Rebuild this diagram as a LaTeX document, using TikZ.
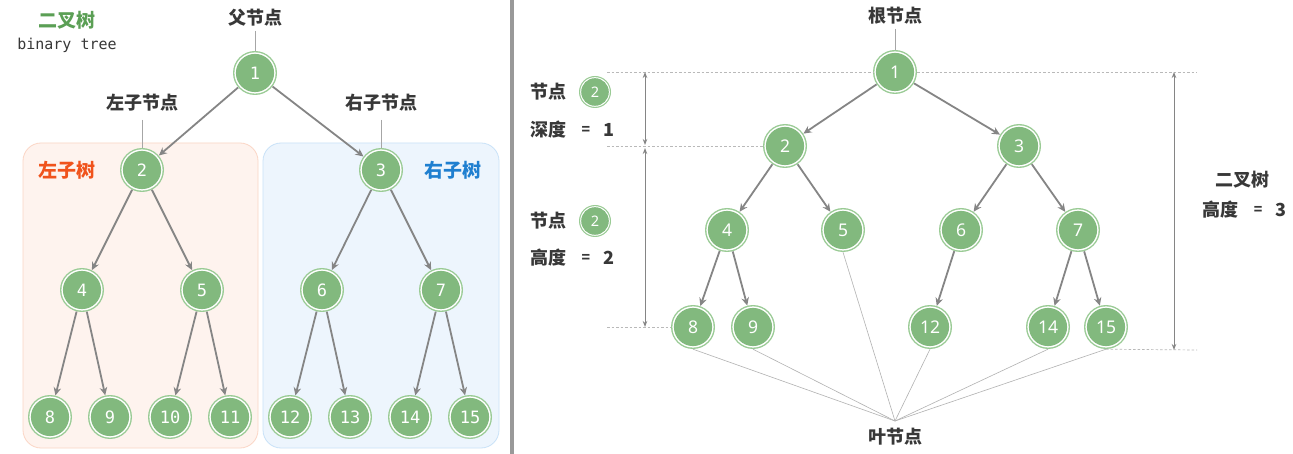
\documentclass[tikz,border=0pt]{standalone}
\usepackage{fontspec}
\usetikzlibrary{arrows.meta}
\newfontfamily\cjk{Noto Sans CJK SC}
\newfontfamily\monof{DejaVu Sans Mono}
\newfontfamily\numf{Noto Sans}
\definecolor{nodefill}{HTML}{82B97E}
\definecolor{ring}{HTML}{9ACB95}
\definecolor{edgec}{HTML}{858585}
\definecolor{txt}{HTML}{383838}
\definecolor{tgreen}{HTML}{5B9F55}
\definecolor{torange}{HTML}{F0531C}
\definecolor{tblue}{HTML}{1F7FD0}
\definecolor{lfill}{HTML}{FEF3EE}
\definecolor{lborder}{HTML}{FBD6C6}
\definecolor{rfill}{HTML}{EDF5FD}
\definecolor{rborder}{HTML}{C9E2F8}
\tikzset{
  tn/.style={circle, fill=ring, draw=none, minimum size=44pt, inner sep=0pt,
    text=white, font=\monof\fontsize{17}{17}\selectfont,
    path picture={\fill[white] (path picture bounding box.center) circle (20.6pt);
                  \fill[nodefill] (path picture bounding box.center) circle (19.1pt);}},
  rn/.style={tn, font=\numf\fontsize{17.5}{17.5}\selectfont},
  sn/.style={circle, fill=ring, draw=none, minimum size=32pt, inner sep=0pt,
    text=white, font=\numf\fontsize{14.5}{14.5}\selectfont,
    path picture={\fill[white] (path picture bounding box.center) circle (14.8pt);
                  \fill[nodefill] (path picture bounding box.center) circle (13.8pt);}},
  lab/.style={text=txt, font=\cjk\bfseries\fontsize{18}{18}\selectfont, inner sep=4pt},
  edgeline/.style={draw=edgec, line width=1.8pt, -{Stealth[length=8pt,width=7.5pt]}},
  pointer/.style={draw=gray!70, line width=0.7pt},
  leafline/.style={draw=gray!60, line width=0.6pt},
  dashline/.style={draw=gray!55, line width=0.7pt, dash pattern=on 2.5pt off 2pt},
  dimline/.style={draw=edgec, line width=1pt, {Stealth[length=6pt,width=4.5pt]}-{Stealth[length=6pt,width=4.5pt]}},
}
\begin{document}
\begin{tikzpicture}[x=1pt,y=-1pt]
\useasboundingbox (0,0) rectangle (1293,454);
\fill[white] (0,0) rectangle (1293,454);
% separator
\fill[gray!80] (510,0) rectangle (514,454);
% ---------------- left panel ----------------
\draw[lborder, fill=lfill, line width=0.8pt, rounded corners=18pt] (23,143) rectangle (258,448);
\draw[rborder, fill=rfill, line width=0.8pt, rounded corners=18pt] (263,143) rectangle (499,448);
\node[font=\cjk\bfseries\fontsize{19}{19}\selectfont, text=tgreen] (title) at (67,20) {二叉树};
\node[font=\monof\fontsize{15}{15}\selectfont, text=txt] (subtitle) at (67,45) {binary tree};
\node[font=\cjk\bfseries\fontsize{19}{19}\selectfont, text=torange] (lst) at (67,170) {左子树};
\node[font=\cjk\bfseries\fontsize{19}{19}\selectfont, text=tblue] (rst) at (453,170) {右子树};

\node[tn] (a1) at (255,73) {1};
\node[tn] (a2) at (142,170) {2};
\node[tn] (a3) at (381,170) {3};
\node[tn] (a4) at (82,290) {4};
\node[tn] (a5) at (202,290) {5};
\node[tn] (a6) at (322,290) {6};
\node[tn] (a7) at (441,290) {7};
\node[tn] (a8) at (50,417) {8};
\node[tn] (a9) at (110,417) {9};
\node[tn] (a10) at (170,417) {10};
\node[tn] (a11) at (230,417) {11};
\node[tn] (a12) at (290,417) {12};
\node[tn] (a13) at (350,417) {13};
\node[tn] (a14) at (410,417) {14};
\node[tn] (a15) at (470,417) {15};

\foreach \p/\c in {a1/a2,a1/a3,a2/a4,a2/a5,a3/a6,a3/a7,a4/a8,a4/a9,a5/a10,a5/a11,a6/a12,a6/a13,a7/a14,a7/a15}
  \draw[edgeline] (\p) -- (\c);

\node[lab] (fa) at (255,18) {父节点};
\draw[pointer] (fa.south) -- (a1.north);
\node[lab] (lc) at (142,103) {左子节点};
\coordinate (lcp) at (142,120);
\draw[pointer] (lcp) -- (a2.north);
\node[lab] (rc) at (381,103) {右子节点};
\coordinate (rcp) at (381,120);
\draw[pointer] (rcp) -- (a3.north);

% ---------------- right panel ----------------
\node[rn] (b1) at (895,72) {1};
\node[rn] (b2) at (785,146) {2};
\node[rn] (b3) at (1019,146) {3};
\node[rn] (b4) at (727,230) {4};
\node[rn] (b5) at (843,230) {5};
\node[rn] (b6) at (961,230) {6};
\node[rn] (b7) at (1078,230) {7};
\node[rn] (b8) at (693,327) {8};
\node[rn] (b9) at (753,327) {9};
\node[rn] (b12) at (930,327) {12};
\node[rn] (b14) at (1048,327) {14};
\node[rn] (b15) at (1106,327) {15};

\foreach \p/\c in {b1/b2,b1/b3,b2/b4,b2/b5,b3/b6,b3/b7,b4/b8,b4/b9,b6/b12,b7/b14,b7/b15}
  \draw[edgeline] (\p) -- (\c);

% dashed guide lines
\coordinate (d1a) at (607,72);
\coordinate (d1b) at (1197,72);
\coordinate (d2a) at (607,146);
\coordinate (d3a) at (607,327);
\coordinate (d4b) at (1197,350);
\draw[dashline] (d1a) -- (b1.west);
\draw[dashline] (b1.east) -- (d1b);
\draw[dashline] (d2a) -- (b2.west);
\draw[dashline] (d3a) -- (b8.west);
\draw[dashline] (b15.south) -- (d4b);

% dimension arrows
\coordinate (v1) at (645,72);
\coordinate (v2) at (645,145);
\coordinate (v3) at (645,148);
\coordinate (v4) at (645,327);
\draw[dimline] (v1) -- (v2);
\draw[dimline] (v3) -- (v4);
\coordinate (w1) at (1174,72);
\coordinate (w2) at (1174,350);
\draw[dimline] (w1) -- (w2);

% root label
\node[lab] (root) at (895,16) {根节点};
\draw[pointer] (root.south) -- (b1.north);

% leaf label
\node[lab] (leaf) at (895,437) {叶节点};
\coordinate (lp) at (895,421);
\foreach \n in {b8,b9,b5,b12,b14,b15}
  \draw[leafline] (\n.south) -- (lp);

% left annotations
\node[lab] (k1) at (548,92) {节点};
\node[sn] (s1) at (595,92) {2};
\node[lab] (k2) at (548,130) {深度};
\node[lab, font=\cjk\bfseries\fontsize{14}{14}\selectfont] (e1) at (586,130) {=};
\node[lab] (n1) at (609,130) {1};
\node[lab] (k3) at (548,221) {节点};
\node[sn] (s2) at (595,221) {2};
\node[lab] (k4) at (548,258) {高度};
\node[lab, font=\cjk\bfseries\fontsize{14}{14}\selectfont] (e2) at (586,258) {=};
\node[lab] (n2) at (609,258) {2};

% right annotations
\node[lab] (k5) at (1242,180) {二叉树};
\node[lab] (k6) at (1220,210) {高度};
\node[lab, font=\cjk\bfseries\fontsize{14}{14}\selectfont] (e3) at (1258,210) {=};
\node[lab] (n3) at (1281,210) {3};
\end{tikzpicture}
\end{document}
